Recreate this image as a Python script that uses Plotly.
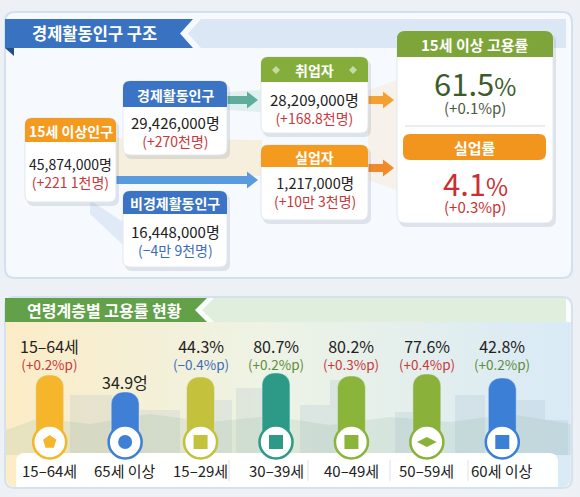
import math
import plotly.graph_objects as go

# 경제활동인구 구조 (top panel)
struct_titles = ["15세 이상인구", "경제활동인구", "비경제활동인구", "취업자", "실업자"]
struct_values = ["45,874,000명", "29,426,000명", "16,448,000명", "28,209,000명", "1,217,000명"]
struct_changes = ["(+221 1천명)", "(+270천명)", "(−4만 9천명)", "(+168.8천명)", "(+10만 3천명)"]

emp_rate = "61.5"
emp_rate_change = "(+0.1%p)"
unemp_rate = "4.1"
unemp_rate_change = "(+0.3%p)"

# 연령계층별 고용률 현황 (bottom panel)
age_groups = ["15–64세", "65세 이상", "15–29세", "30–39세", "40–49세", "50–59세", "60세 이상"]
age_rate_text = ["15–64세", "34.9엉", "44.3%", "80.7%", "80.2%", "77.6%", "42.8%"]
age_changes = ["(+0.2%p)", "", "(−0.4%p)", "(+0.2%p)", "(+0.3%p)", "(+0.4%p)", "(+0.2%p)"]
bar_heights = [67, 50, 65, 69, 66, 68, 64]  # drawn bar heights

W, H = 580, 497
FONT = "Noto Sans CJK KR"

bar_colors = ["#f5b62c", "#3f7fd6", "#c4c23c", "#2c9a86", "#8bb53a", "#8ab13a", "#3b80d6"]
change_colors = ["#c8383a", "#c8383a", "#3b6db5", "#5e8d3c", "#c8383a", "#c8383a", "#5e8d3c"]
icon_symbols = ["pentagon", "circle", "square", "square", "square", "diamond-wide", "square"]


def rr(x0, y0, x1, y1, rt, rb=None):
    # rounded rect path, y grows downward
    if rb is None:
        rb = rt
    p = f"M{x0+rt},{y0} L{x1-rt},{y0} Q{x1},{y0} {x1},{y0+rt} "
    p += f"L{x1},{y1-rb} Q{x1},{y1} {x1-rb},{y1} L{x0+rb},{y1} Q{x0},{y1} {x0},{y1-rb} "
    p += f"L{x0},{y0+rt} Q{x0},{y0} {x0+rt},{y0} Z"
    return p


def rr_points(x0, y0, x1, y1, rt, rb):
    xs, ys = [], []
    corners = [(x1 - rt, y0 + rt, rt, -90, 0), (x1 - rb, y1 - rb, rb, 0, 90),
               (x0 + rb, y1 - rb, rb, 90, 180), (x0 + rt, y0 + rt, rt, 180, 270)]
    for cx, cy, r, a0, a1 in corners:
        for k in range(7):
            a = math.radians(a0 + (a1 - a0) * k / 6)
            xs.append(cx + r * math.cos(a))
            ys.append(cy + r * math.sin(a))
    xs.append(xs[0])
    ys.append(ys[0])
    return xs, ys


def poly(pts):
    return "M" + " L".join(f"{x},{y}" for x, y in pts) + " Z"


def arrow(x0, x1, y, sh, hh, hl):
    return poly([(x0, y - sh / 2), (x1 - hl, y - sh / 2), (x1 - hl, y - hh / 2), (x1, y),
                 (x1 - hl, y + hh / 2), (x1 - hl, y + sh / 2), (x0, y + sh / 2)])


def span(s, size, color):
    return f"<span style='font-size:{size}px;color:{color}'>{s}</span>"


shapes = []
ann = []


def shp(path, fill, line=None, lw=1, layer="below"):
    d = dict(type="path", path=path, xref="x", yref="y", fillcolor=fill, layer=layer,
             line=dict(color=line if line else "rgba(0,0,0,0)", width=lw if line else 0))
    shapes.append(d)


def txt(x, y, s, size=13, color="#222", bold=False, xref="x"):
    ann.append(dict(x=x, y=y, xref=xref, yref="y", text=f"<b>{s}</b>" if bold else s,
                    showarrow=False, xanchor="center", yanchor="middle",
                    font=dict(family=FONT, size=size, color=color)))


# ---------- top panel ----------
shp(rr(5, 12, 572, 278, 10), "#f6f9fd", "#d2e0f0", 2)
shp(poly([(201, 19), (566, 19), (566, 48), (201, 48), (188, 33.5)]), "#dce7f5")
shp(poly([(5, 19), (193, 19), (180, 33.5), (193, 48), (5, 48)]), "#3a72c2")
shp(poly([(5, 48), (14, 48), (14, 56)]), "#234e8e")
txt(94, 33, "경제활동인구 구조", 16.5, "white", True)

# soft connector bands
shp(poly([(116, 138), (262, 140), (262, 176), (116, 180)]), "rgba(246,205,110,0.22)")
shp(poly([(90, 200), (123, 222), (123, 245), (90, 214)]), "rgba(110,155,220,0.16)")
shp(poly([(227, 92), (262, 90), (262, 112), (227, 110)]), "rgba(100,180,160,0.15)")
shp(poly([(368, 90), (397, 80), (397, 190), (368, 180)]), "rgba(246,190,100,0.12)")

# arrows
shp(arrow(226, 258, 100, 8, 17, 11), "#5fae9b")
shp(arrow(116, 258, 180, 8, 17, 11), "#5a9be0")
shp(arrow(368, 394, 100, 8, 17, 11), "#f4a030")
shp(arrow(368, 394, 168, 8, 17, 11), "#f08a2a")

boxes = [  # x0, x1, header top, header bottom, body bottom, colour, text centre y, value size
    (25, 116, 118, 142, 202, "#f39a1f", 172.5, 14),
    (123, 227, 81, 107, 155, "#3b74c4", 131.5, 15),
    (123, 227, 191, 214, 267, "#3b74c4", 240, 15),
    (261, 368, 57, 82, 133, "#84ad3a", 108.5, 15),
    (261, 368, 145, 167, 220, "#f39a1f", 191.5, 14.5),
]
for i, (x0, x1, h0, h1, b1, col, ty, vs) in enumerate(boxes):
    shp(rr(x0 + 2, h0 + 3, x1 + 3, b1 + 4, 7), "rgba(70,90,130,0.14)")
    shp(rr(x0, h0, x1, b1, 7), "white", "#e1e7ef", 1)
    shp(rr(x0, h0, x1, h1, 7, 0), col)
    cx = (x0 + x1) / 2
    txt(cx, (h0 + h1) / 2 + 0.5, struct_titles[i], 14, "white", True)
    ccol = "#3b6db5" if i == 2 else "#c8383a"
    txt(cx, ty, span(struct_values[i], vs, "#222") + "<br>" + span(struct_changes[i], 14, ccol), 14.2)

for dx in (276, 353):
    shp(poly([(dx, 66), (dx + 4, 70), (dx, 74), (dx - 4, 70)]), "rgba(255,255,255,0.55)")

# rates box
shp(rr(399, 34, 556, 227, 8), "rgba(70,90,130,0.14)")
shp(rr(397, 31, 553, 223, 8), "white", "#e1e7ef", 1)
shp(rr(397, 31, 553, 57, 8, 0), "#7ea53a")
txt(475, 44.5, "15세 이상 고용률", 15, "white", True)
txt(475, 82, emp_rate + span("%", 24, "#3d5a2b"), 31, "#3d5a2b")
txt(475, 107.5, emp_rate_change, 15, "#4b5a3f")
shapes.append(dict(type="line", x0=405, x1=545, y0=126, y1=126, xref="x", yref="y",
                   line=dict(color="#e3e7ea", width=1.5), layer="below"))
shp(rr(403, 134, 546, 160, 7), "#f2951f")
txt(475, 147, "실업률", 15, "white", True)
txt(475, 182, unemp_rate + span("%", 24, "#c93131"), 31, "#c93131")
txt(475, 206.5, unemp_rate_change, 15, "#c93131")

# ---------- bottom panel ----------
shp(rr(5, 297, 572, 488, 10), "#fbfcfd", "#d5e2ee", 2)
shp(poly([(214, 298), (566, 298), (566, 322), (214, 322), (202, 310)]), "#dfeedd")
shp(poly([(5, 298), (207, 298), (195, 310), (207, 322), (5, 322)]), "#62a04a")
txt(104, 310, "연령계층별 고용률 현황", 16, "white", True)

fig = go.Figure()

gx, gy = rr_points(6, 322, 571, 487, 0.1, 9)
fig.add_trace(go.Scatter(x=gx, y=gy, fill="toself", mode="lines", line=dict(width=0),
                         fillgradient=dict(type="horizontal",
                                           colorscale=[[0, "#fcecc6"], [0.45, "#eef3e4"], [1, "#d9eaf6"]]),
                         hoverinfo="skip", showlegend=False))

# faint skyline behind the bars
sky = [(70, 112, 395, 455), (140, 180, 410, 455), (205, 232, 400, 455),
       (236, 262, 388, 455), (300, 330, 405, 455), (330, 350, 380, 455), (395, 420, 412, 455),
       (455, 485, 395, 455), (515, 545, 400, 455), (545, 568, 420, 455)]
bx, by = [], []
for x0, x1, y0, y1 in sky:
    bx += [x0, x1, x1, x0, x0, None]
    by += [y0, y0, y1, y1, y0, None]
fig.add_trace(go.Scatter(x=bx, y=by, fill="toself", mode="lines", line=dict(width=0),
                         fillcolor="rgba(140,170,195,0.16)", hoverinfo="skip", showlegend=False))
hx = [6, 40, 90, 150, 210, 270, 330, 390, 450, 510, 571, 571, 6]
hy = [430, 418, 424, 414, 422, 416, 425, 417, 422, 414, 424, 455, 455]
fig.add_trace(go.Scatter(x=hx, y=hy, fill="toself", mode="lines", line=dict(width=0),
                         fillcolor="rgba(130,175,150,0.16)", hoverinfo="skip", showlegend=False))

sx, sy = rr_points(16, 453, 558, 487, 8, 0.1)
fig.add_trace(go.Scatter(x=sx, y=sy, fill="toself", mode="lines", line=dict(width=0),
                         fillcolor="rgba(255,255,255,0.97)", hoverinfo="skip", showlegend=False))

for sxp in (229, 308, 390, 468):
    shapes.append(dict(type="line", x0=sxp, x1=sxp, y0=460, y1=481, xref="x", yref="y",
                       line=dict(color="#dde3e8", width=1), layer="above"))

fig.add_trace(go.Bar(x=age_groups, y=bar_heights, marker=dict(color=bar_colors, cornerradius=12),
                     xaxis="x2", yaxis="y2", hoverinfo="skip", showlegend=False))
fig.add_trace(go.Scatter(x=age_groups, y=[0] * len(age_groups), mode="markers", xaxis="x2", yaxis="y2",
                         marker=dict(size=33, color="white", line=dict(color=bar_colors, width=2.5)),
                         cliponaxis=False, hoverinfo="skip", showlegend=False))
fig.add_trace(go.Scatter(x=age_groups, y=[0] * len(age_groups), mode="markers", xaxis="x2", yaxis="y2",
                         marker=dict(size=14, color=bar_colors, symbol=icon_symbols),
                         cliponaxis=False, hoverinfo="skip", showlegend=False))

for i, g in enumerate(age_groups):
    if age_changes[i]:
        txt(g, 353.5, span(age_rate_text[i], 16, "#222") + "<br>"
            + span(age_changes[i], 13.5, change_colors[i]), 13.2, xref="x2")
    else:
        txt(g, 382, age_rate_text[i], 16, "#222", xref="x2")
    txt(g, 470, g, 15, "#222", xref="x2")

fig.update_layout(
    width=W, height=H, margin=dict(l=0, r=0, t=0, b=0),
    paper_bgcolor="#edf1f6", plot_bgcolor="rgba(0,0,0,0)",
    xaxis=dict(range=[0, W], visible=False, domain=[0, 1], fixedrange=True),
    yaxis=dict(range=[H, 0], visible=False, domain=[0, 1], fixedrange=True),
    xaxis2=dict(domain=[12 / W, 540 / W], range=[-0.5, 6.5], visible=False, anchor="y2",
                fixedrange=True),
    yaxis2=dict(domain=[(H - 442) / H, (H - 362) / H], range=[0, 80], visible=False,
                anchor="x2", fixedrange=True),
    bargap=0.63,
    shapes=shapes, annotations=ann, showlegend=False,
)

fig.write_html("out.html", post_script="document.body.style.margin='0';",
               config={"displayModeBar": False})
